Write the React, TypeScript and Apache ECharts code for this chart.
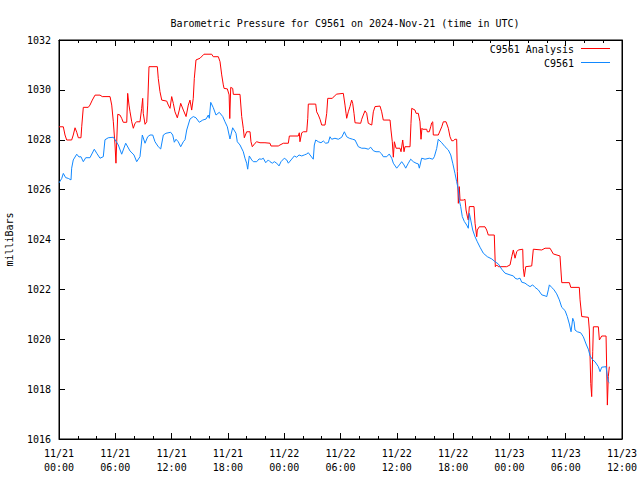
import React, { useEffect, useRef } from "react";
import * as echarts from "echarts";

// Hours after 2024-11-21 00:00 UTC
const analysisHours = [
  0, 0.46, 0.64, 0.82, 1.35, 1.52, 1.71, 1.89, 2.06, 2.34, 2.42, 2.59, 3.12, 3.3, 3.55, 3.84, 4.37, 4.61, 5.44, 5.62,
  5.79, 5.97, 6.07, 6.15, 6.26, 6.5, 6.68, 6.85, 7.22, 7.32, 7.46, 7.57, 7.75, 7.92, 8.1, 8.28, 8.63, 8.81, 8.92, 8.98,
  9.17, 9.35, 9.45, 9.59, 10.48, 10.58, 10.76, 10.95, 11.48, 11.65, 11.83, 12.01, 12.18, 12.36, 12.61, 12.82, 12.97, 13.25, 13.54, 13.78,
  13.96, 14.14, 14.31, 14.42, 14.6, 15.03, 15.45, 16.27, 16.44, 16.98, 17.16, 17.34, 17.51, 17.59, 17.94, 18.13, 18.2, 18.3, 18.51, 18.58,
  19.29, 19.47, 19.64, 19.75, 20.0, 20.36, 20.46, 20.6, 20.89, 21.07, 21.42, 21.95, 22.49, 22.59, 23.37, 23.55, 23.91, 24.44, 24.55, 25.5,
  25.61, 25.68, 25.87, 26.04, 26.4, 26.51, 26.57, 27.36, 27.46, 27.64, 27.82, 28.0, 28.35, 28.53, 28.64, 29.13, 29.34, 29.6, 30.3, 30.37,
  30.48, 30.59, 30.66, 30.83, 31.01, 31.19, 31.3, 31.44, 31.55, 32.15, 32.26, 32.43, 32.61, 32.79, 32.96, 33.33, 33.5, 33.68, 34.21, 34.39,
  34.56, 35.28, 35.38, 35.52, 35.63, 35.74, 35.92, 36.34, 36.45, 36.63, 36.77, 36.87, 37.41, 37.51, 37.59, 37.94, 38.05, 38.29, 38.47, 38.58,
  38.68, 38.76, 39.19, 39.25, 39.46, 39.61, 39.72, 39.83, 39.89, 40.42, 40.79, 40.96, 41.25, 41.49, 41.67, 41.85, 42.02, 42.2, 42.38, 42.45,
  42.56, 42.66, 42.74, 43.09, 43.27, 43.38, 43.51, 43.62, 43.73, 44.23, 44.34, 44.52, 44.58, 44.79, 45.4, 45.58, 45.75, 46.39, 46.5, 46.65,
  46.82, 47.71, 48.07, 48.25, 48.42, 48.6, 48.78, 48.95, 49.42, 49.48, 49.59, 49.74, 50.38, 50.55, 51.45, 51.8, 52.33, 52.68, 53.39, 53.58,
  54.39, 54.54, 55.45, 55.53, 55.71, 56.41, 56.52, 56.67, 56.77, 56.88, 56.95, 57.48, 57.59, 57.84, 58.3, 58.37, 58.44, 58.54, 58.65,
];
const analysisValues = [
  1028.52, 1028.52, 1028.19, 1027.99, 1027.99, 1028.19, 1028.48, 1028.3, 1028.08, 1028.08, 1028.52, 1029.3, 1029.3, 1029.39, 1029.59, 1029.79, 1029.79, 1029.73, 1029.73, 1029.39,
  1028.72, 1027.79, 1027.06, 1027.92, 1029.02, 1028.99, 1028.86, 1028.7, 1028.7, 1029.86, 1029.39, 1029.12, 1028.72, 1028.46, 1028.66, 1028.72, 1028.72, 1029.26, 1029.66, 1029.06,
  1028.62, 1028.72, 1029.39, 1030.93, 1030.93, 1030.46, 1029.93, 1029.59, 1029.55, 1029.39, 1029.26, 1029.73, 1029.46, 1029.12, 1028.88, 1029.19, 1029.46, 1029.19, 1028.93, 1029.39,
  1029.59, 1029.19, 1029.66, 1030.46, 1031.2, 1031.27, 1031.43, 1031.43, 1031.33, 1031.33, 1031.13, 1030.6, 1030.2, 1030.06, 1030.04, 1029.8, 1028.85, 1030.1, 1030.06, 1029.82,
  1029.82, 1028.93, 1028.46, 1028.08, 1028.32, 1028.32, 1027.92, 1027.72, 1027.86, 1027.92, 1027.88, 1027.88, 1027.86, 1027.75, 1027.75, 1027.79, 1027.86, 1027.86, 1028.15, 1028.15,
  1028.28, 1027.92, 1028.28, 1028.32, 1028.32, 1028.86, 1029.43, 1029.43, 1029.12, 1028.99, 1028.82, 1028.59, 1028.59, 1029.06, 1029.66, 1029.66, 1029.75, 1029.83, 1029.86, 1029.86,
  1029.39, 1029.06, 1028.86, 1029.12, 1029.33, 1029.59, 1029.46, 1029.06, 1028.68, 1028.66, 1028.82, 1028.99, 1029.16, 1029.06, 1028.66, 1028.59, 1029.12, 1029.33, 1029.35, 1029.12,
  1028.79, 1028.79, 1028.39, 1027.92, 1027.3, 1027.92, 1027.66, 1027.66, 1027.52, 1027.99, 1027.52, 1027.72, 1027.72, 1028.66, 1029.26, 1029.19, 1029.06, 1029.06, 1028.72, 1028.02,
  1028.46, 1028.42, 1028.42, 1028.32, 1028.32, 1028.52, 1028.68, 1028.72, 1028.19, 1028.19, 1028.52, 1028.72, 1028.72, 1028.46, 1028.12, 1027.96, 1027.96, 1028.02, 1028.02, 1026.72,
  1025.45, 1026.12, 1025.58, 1025.58, 1025.61, 1025.18, 1024.94, 1024.78, 1025.32, 1025.32, 1024.65, 1024.11, 1024.38, 1024.51, 1024.51, 1024.38, 1024.18, 1024.18, 1022.91, 1022.98,
  1022.91, 1022.91, 1022.98, 1023.31, 1023.58, 1023.25, 1023.51, 1023.58, 1023.61, 1022.85, 1022.51, 1022.91, 1022.94, 1023.61, 1023.58, 1023.65, 1023.65, 1023.42, 1023.34, 1022.27,
  1022.27, 1022.08, 1022.08, 1021.58, 1020.91, 1020.88, 1020.37, 1018.23, 1017.7, 1019.5, 1020.5, 1020.5, 1019.97, 1020.13, 1020.13, 1018.77, 1017.36, 1018.5, 1018.9,
];

const stationHours = [
  0, 0.29, 0.46, 0.71, 0.99, 1.28, 1.35, 1.52, 1.89, 2.13, 2.34, 2.59, 2.85, 3.3, 3.76, 4.02, 4.37, 4.72, 4.9, 5.25,
  5.79, 5.97, 6.32, 6.68, 7.11, 7.57, 7.99, 8.28, 8.63, 8.88, 9.17, 9.45, 9.7, 9.99, 10.23, 10.58, 10.84, 11.12, 11.4, 11.9,
  12.12, 12.29, 12.47, 12.71, 12.97, 13.25, 13.43, 13.61, 13.96, 14.31, 14.6, 14.95, 15.32, 15.67, 15.91, 16.02, 16.17, 16.44, 16.73, 17.08,
  17.45, 17.69, 17.94, 18.22, 18.51, 18.86, 19.0, 19.29, 19.64, 19.82, 20.0, 20.11, 20.28, 20.54, 20.71, 21.07, 21.32, 21.6, 21.77, 22.03,
  22.31, 22.49, 22.73, 22.95, 23.2, 23.45, 23.66, 24.01, 24.27, 24.44, 24.73, 25.08, 25.33, 25.58, 25.87, 26.14, 26.4, 26.57, 26.75, 27.1,
  27.21, 27.36, 27.64, 27.92, 28.17, 28.42, 28.7, 28.88, 29.06, 29.41, 29.77, 30.13, 30.41, 30.66, 30.94, 31.3, 31.55, 31.9, 32.26, 32.61,
  32.96, 33.22, 33.5, 33.78, 34.14, 34.39, 34.56, 34.93, 35.2, 35.46, 35.63, 35.99, 36.27, 36.52, 36.77, 36.95, 37.23, 37.48, 37.76, 38.05,
  38.29, 38.4, 38.65, 39.01, 39.46, 39.83, 40.0, 40.25, 40.42, 40.79, 41.14, 41.49, 41.75, 41.96, 42.2, 42.38, 42.56, 42.66, 42.81, 42.98,
  43.2, 43.45, 43.62, 43.73, 43.88, 44.09, 44.34, 44.58, 44.87, 45.22, 45.65, 46.12, 46.47, 46.82, 47.18, 47.53, 48.07, 48.42, 48.6, 48.84,
  49.13, 49.31, 49.66, 49.91, 50.2, 50.48, 50.73, 51.08, 51.45, 51.8, 51.98, 52.15, 52.26, 52.51, 52.76, 53.04, 53.32, 53.58, 53.93, 54.17,
  54.39, 54.57, 54.75, 54.89, 54.99, 55.24, 55.6, 55.88, 56.17, 56.41, 56.6, 56.88, 57.12, 57.48, 57.66, 57.84, 58.3, 58.44, 58.54, 58.65,
];
const stationValues = [
  1026.27, 1026.45, 1026.65, 1026.48, 1026.45, 1026.39, 1026.86, 1027.19, 1027.42, 1027.31, 1027.32, 1027.12, 1027.28, 1027.28, 1027.62, 1027.46, 1027.26, 1027.32, 1028.0, 1028.08,
  1028.1, 1028.0, 1027.79, 1027.42, 1027.86, 1027.55, 1027.39, 1027.12, 1027.32, 1028.19, 1027.86, 1028.12, 1028.19, 1028.19, 1027.92, 1027.72, 1027.63, 1028.19, 1028.26, 1028.3,
  1028.19, 1027.9, 1028.02, 1027.92, 1027.72, 1027.92, 1028.0, 1028.39, 1028.83, 1028.93, 1028.88, 1028.7, 1028.79, 1028.83, 1028.99, 1028.86, 1029.5, 1029.29, 1028.99, 1029.1,
  1028.93, 1028.72, 1028.52, 1028.03, 1028.48, 1028.26, 1027.92, 1027.79, 1027.52, 1027.26, 1027.06, 1026.82, 1027.35, 1027.19, 1027.12, 1027.12, 1027.23, 1027.22, 1027.26, 1027.08,
  1027.19, 1027.12, 1027.06, 1027.12, 1027.06, 1026.95, 1027.12, 1027.26, 1027.19, 1027.06, 1027.19, 1027.35, 1027.3, 1027.39, 1027.35, 1027.39, 1027.43, 1027.48, 1027.39, 1027.22,
  1027.79, 1027.99, 1027.92, 1027.88, 1027.95, 1027.86, 1027.88, 1028.12, 1028.02, 1028.06, 1028.02, 1028.1, 1028.32, 1028.12, 1028.06, 1028.02, 1027.99, 1027.72, 1027.66, 1027.66,
  1027.62, 1027.7, 1027.56, 1027.52, 1027.52, 1027.43, 1027.32, 1027.32, 1027.43, 1027.26, 1027.06, 1026.86, 1026.99, 1027.12, 1026.99, 1026.86, 1027.06, 1027.22, 1027.12, 1027.06,
  1027.03, 1026.86, 1027.26, 1027.22, 1027.26, 1027.22, 1027.32, 1027.65, 1028.02, 1027.88, 1027.72, 1027.59, 1027.39, 1027.06, 1026.65, 1026.32, 1025.99, 1025.58, 1025.32, 1024.92,
  1024.72, 1024.58, 1024.45, 1025.05, 1024.78, 1024.38, 1024.11, 1023.91, 1023.69, 1023.45, 1023.31, 1023.22, 1023.11, 1023.02, 1022.81, 1022.65, 1022.58, 1022.54, 1022.45, 1022.41,
  1022.45, 1022.29, 1022.25, 1022.18, 1022.11, 1022.18, 1022.08, 1021.98, 1021.78, 1021.74, 1021.71, 1021.98, 1022.18, 1022.08, 1021.98, 1021.82, 1021.58, 1021.28, 1021.15, 1020.91,
  1020.61, 1020.3, 1020.84, 1020.7, 1020.37, 1020.3, 1020.26, 1020.1, 1019.81, 1019.6, 1019.33, 1019.17, 1019.1, 1018.9, 1018.7, 1018.88, 1018.9, 1018.5, 1018.3, 1018.26,
];

const xTickDays = ["11/21", "11/22", "11/23"];
const titleText = "Barometric Pressure for C9561 on 2024-Nov-21 (time in UTC)";
const yAxisTitle = "milliBars";
const seriesNames = ["C9561 Analysis", "C9561"];
const seriesColors = ["#ff0000", "#1188ff"];

const FONT = "DejaVu Sans Mono";

function zip(xs: number[], ys: number[]) {
  return xs.map((x, i) => [x, ys[i]]);
}

function fmtHour(h: number) {
  const day = xTickDays[Math.floor(h / 24)] ?? "";
  const hh = String(Math.round(h % 24)).padStart(2, "0");
  return `${day}\n${hh}:00`;
}

export default function App() {
  const ref = useRef<HTMLDivElement>(null);
  useEffect(() => {
    if (!ref.current) return;
    const chart = echarts.init(ref.current, undefined, { renderer: "svg" });
    const axisCommon = {
      type: "value" as const,
      axisLine: { show: true, onZero: false, lineStyle: { color: "#000", width: 1 } },
      splitLine: { show: false },
    };
    chart.setOption({
      animation: false,
      backgroundColor: "#fff",
      textStyle: { fontFamily: FONT },
      title: {
        text: titleText,
        left: 340,
        top: 13,
        textAlign: "center",
        textStyle: { fontFamily: FONT, fontSize: 10, fontWeight: "normal", color: "#000" },
      },
      grid: {
        left: 59,
        right: 18,
        top: 40,
        bottom: 41,
        containLabel: false,
        outerBoundsMode: "none",
        show: true,
        borderColor: "#000",
        borderWidth: 1,
      },
      xAxis: [
        {
          ...axisCommon,
          position: "bottom",
          min: 0,
          max: 60,
          interval: 6,
          axisTick: { show: true, inside: true, length: 6, lineStyle: { color: "#000" } },
          minorTick: { show: true, splitNumber: 3, length: 3, lineStyle: { color: "#000" } },
          axisLabel: {
            formatter: (v: number) => fmtHour(v),
            fontFamily: FONT,
            fontSize: 10,
            color: "#000",
            lineHeight: 14,
            margin: 7,
            showMinLabel: true,
            showMaxLabel: true,
          },
        },
        {
          ...axisCommon,
          position: "top",
          min: 0,
          max: 60,
          interval: 6,
          axisTick: { show: true, inside: true, length: 6, lineStyle: { color: "#000" } },
          minorTick: { show: true, splitNumber: 3, length: 3, lineStyle: { color: "#000" } },
          axisLabel: { show: false },
        },
      ],
      yAxis: [
        {
          ...axisCommon,
          position: "left",
          min: 1016,
          max: 1032,
          interval: 2,
          name: yAxisTitle,
          nameLocation: "middle",
          nameRotate: 90,
          nameGap: 45,
          nameTextStyle: { fontFamily: FONT, fontSize: 10, color: "#000" },
          axisTick: { show: true, inside: true, length: 6, lineStyle: { color: "#000" } },
          axisLabel: {
            fontFamily: FONT,
            fontSize: 10,
            color: "#000",
            margin: 8,
            formatter: (v: number) => String(v),
          },
        },
        {
          ...axisCommon,
          position: "right",
          min: 1016,
          max: 1032,
          interval: 2,
          axisTick: { show: true, inside: true, length: 6, lineStyle: { color: "#000" } },
          axisLabel: { show: false },
        },
      ],
      graphic: [
        {
          type: "text",
          x: 574,
          y: 49,
          style: {
            text: seriesNames[0],
            textAlign: "right",
            textVerticalAlign: "middle",
            fontFamily: FONT,
            fontSize: 10,
            fill: "#000",
          },
        },
        {
          type: "line",
          shape: { x1: 581, y1: 48.5, x2: 610, y2: 48.5 },
          style: { stroke: seriesColors[0], lineWidth: 1 },
        },
        {
          type: "text",
          x: 574,
          y: 63,
          style: {
            text: seriesNames[1],
            textAlign: "right",
            textVerticalAlign: "middle",
            fontFamily: FONT,
            fontSize: 10,
            fill: "#000",
          },
        },
        {
          type: "line",
          shape: { x1: 581, y1: 62.5, x2: 610, y2: 62.5 },
          style: { stroke: seriesColors[1], lineWidth: 1 },
        },
      ],
      series: [
        {
          name: seriesNames[0],
          type: "line",
          xAxisIndex: 0,
          yAxisIndex: 0,
          data: zip(analysisHours, analysisValues),
          showSymbol: false,
          symbol: "none",
          lineStyle: { color: seriesColors[0], width: 1 },
          itemStyle: { color: seriesColors[0] },
        },
        {
          name: seriesNames[1],
          type: "line",
          xAxisIndex: 0,
          yAxisIndex: 0,
          data: zip(stationHours, stationValues),
          showSymbol: false,
          symbol: "none",
          lineStyle: { color: seriesColors[1], width: 1 },
          itemStyle: { color: seriesColors[1] },
        },
      ],
    });
    return () => chart.dispose();
  }, []);
  return (
    <div
      ref={ref}
      style={{ position: "fixed", left: 0, top: 0, width: 640, height: 480, background: "#fff" }}
    />
  );
}
